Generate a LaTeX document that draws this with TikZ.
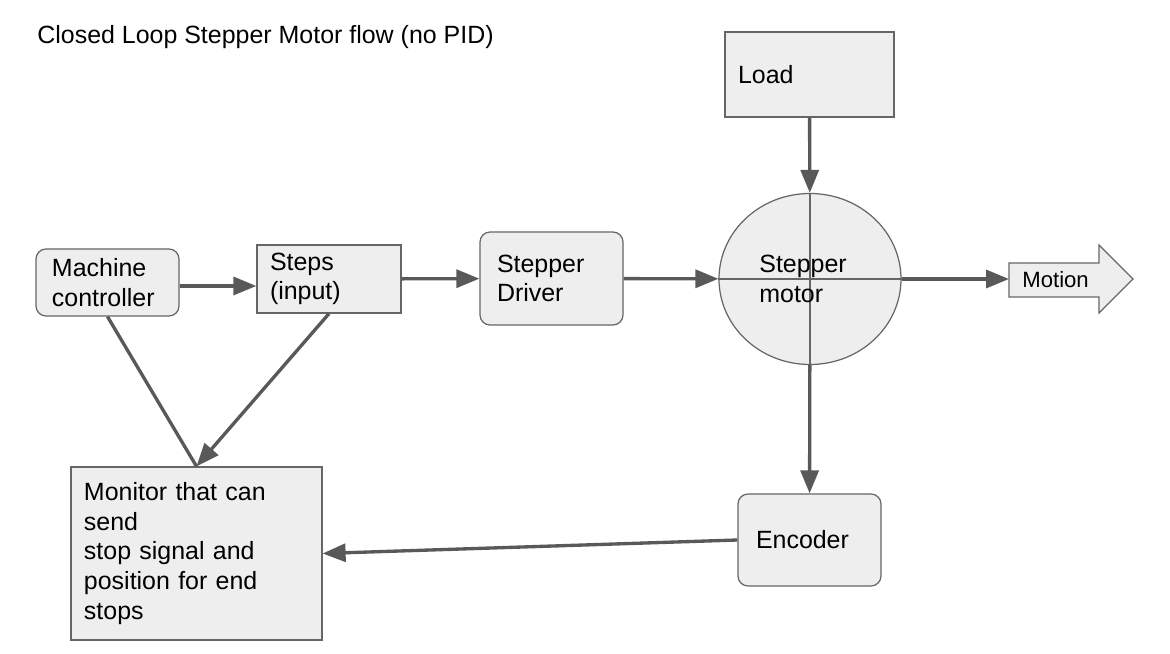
\documentclass[tikz,border=0pt]{standalone}
\usepackage{fontspec}
\setmainfont{Liberation Sans}
\usetikzlibrary{arrows.meta,shapes.geometric}

\definecolor{blkfill}{HTML}{EEEEEE}
\definecolor{edgegray}{HTML}{666666}
\definecolor{flowgray}{HTML}{595959}
\newcommand{\blkfont}{\fontsize{14.2}{16.9}\selectfont}

\tikzset{
  blk/.style={draw=edgegray, fill=blkfill, line width=0.7pt, align=left, inner ysep=0pt, font=\blkfont},
  rblk/.style={blk, rounded corners=0.2cm},
  flow/.style={draw=flowgray, line width=1.9pt, -{Triangle[length=0.46cm,width=0.36cm]}},
  plainflow/.style={draw=flowgray, line width=1.9pt},
}

\begin{document}
\begin{tikzpicture}
        \useasboundingbox (0, 0) rectangle (23.4, -13.08);

        % Title
        \node[anchor=west, inner sep=0pt, font=\blkfont] (title) at (0.74, -0.74) {Closed Loop Stepper Motor flow (no PID)};

        % Load on top of the motor
        \node[blk, minimum width=3.38cm, minimum height=1.7cm, inner xsep=0.26cm, text width=2.86cm] (load) at (16.19, -1.49) {Load};

        % Row of blocks
        \node[rblk, minimum width=2.86cm, minimum height=1.34cm, inner xsep=0.32cm, text width=2.22cm] (mc) at (2.15, -5.65) {Machine\\controller};
        \node[blk, minimum width=2.88cm, minimum height=1.36cm, inner xsep=0.26cm, text width=2.36cm] (steps) at (6.58, -5.58) {Steps\\(input)};
        \node[rblk, minimum width=2.86cm, minimum height=1.86cm, inner xsep=0.34cm, text width=2.18cm] (drv) at (11.03, -5.57) {Stepper\\Driver};

        % Motor
        \node[ellipse, draw=edgegray, fill=blkfill, line width=0.7pt, minimum width=3.64cm, minimum height=3.42cm, inner sep=0pt] (mot) at (16.2, -5.58) {};
        \draw[edgegray, line width=0.7pt] (mot.north) -- (mot.south);
        \draw[edgegray, line width=0.7pt] (mot.west) -- (mot.east);
        \node[anchor=west, align=left, inner sep=0pt, font=\blkfont] (motlbl) at (15.18, -5.58) {Stepper\\motor};

        % Motion arrow
        \draw[edgegray, fill=blkfill, line width=0.7pt] (20.18, -5.26) -- (21.98, -5.26) -- (21.98, -4.9) -- (22.66, -5.58)
            -- (21.98, -6.26) -- (21.98, -5.94) -- (20.18, -5.94) -- cycle;
        \coordinate (mtail) at (20.18, -5.58);
        \node[anchor=west, inner sep=0pt, font=\fontsize{12.6}{15}\selectfont] (motion) at (20.44, -5.6) {Motion};

        % Monitor and encoder
        \node[blk, minimum width=5.02cm, minimum height=3.46cm, inner xsep=0.26cm, text width=4.5cm] (mon) at (3.93, -11.07) {Monitor that can\\send\\stop signal and\\position for end\\stops};
        \node[rblk, minimum width=2.86cm, minimum height=1.84cm, inner xsep=0.36cm, text width=2.14cm] (enc) at (16.19, -10.8) {Encoder};

        % Connectors
        \draw[flow] (load) -- (mot);
        \draw[flow] ([yshift=-0.07cm]mc.east) -- ([yshift=-0.07cm]mc.east -| steps.west);
        \draw[flow] (steps) -- (drv);
        \draw[flow] (drv) -- (mot);
        \draw[flow] (mot.east) -- (mtail);
        \draw[flow] (mot) -- (enc);
        \draw[flow] (enc.west) -- (mon.east);
        \draw[plainflow] (mc.south) -- (mon.north);
        \draw[flow] (steps.south) -- (mon.north);
    \end{tikzpicture}
\end{document}
